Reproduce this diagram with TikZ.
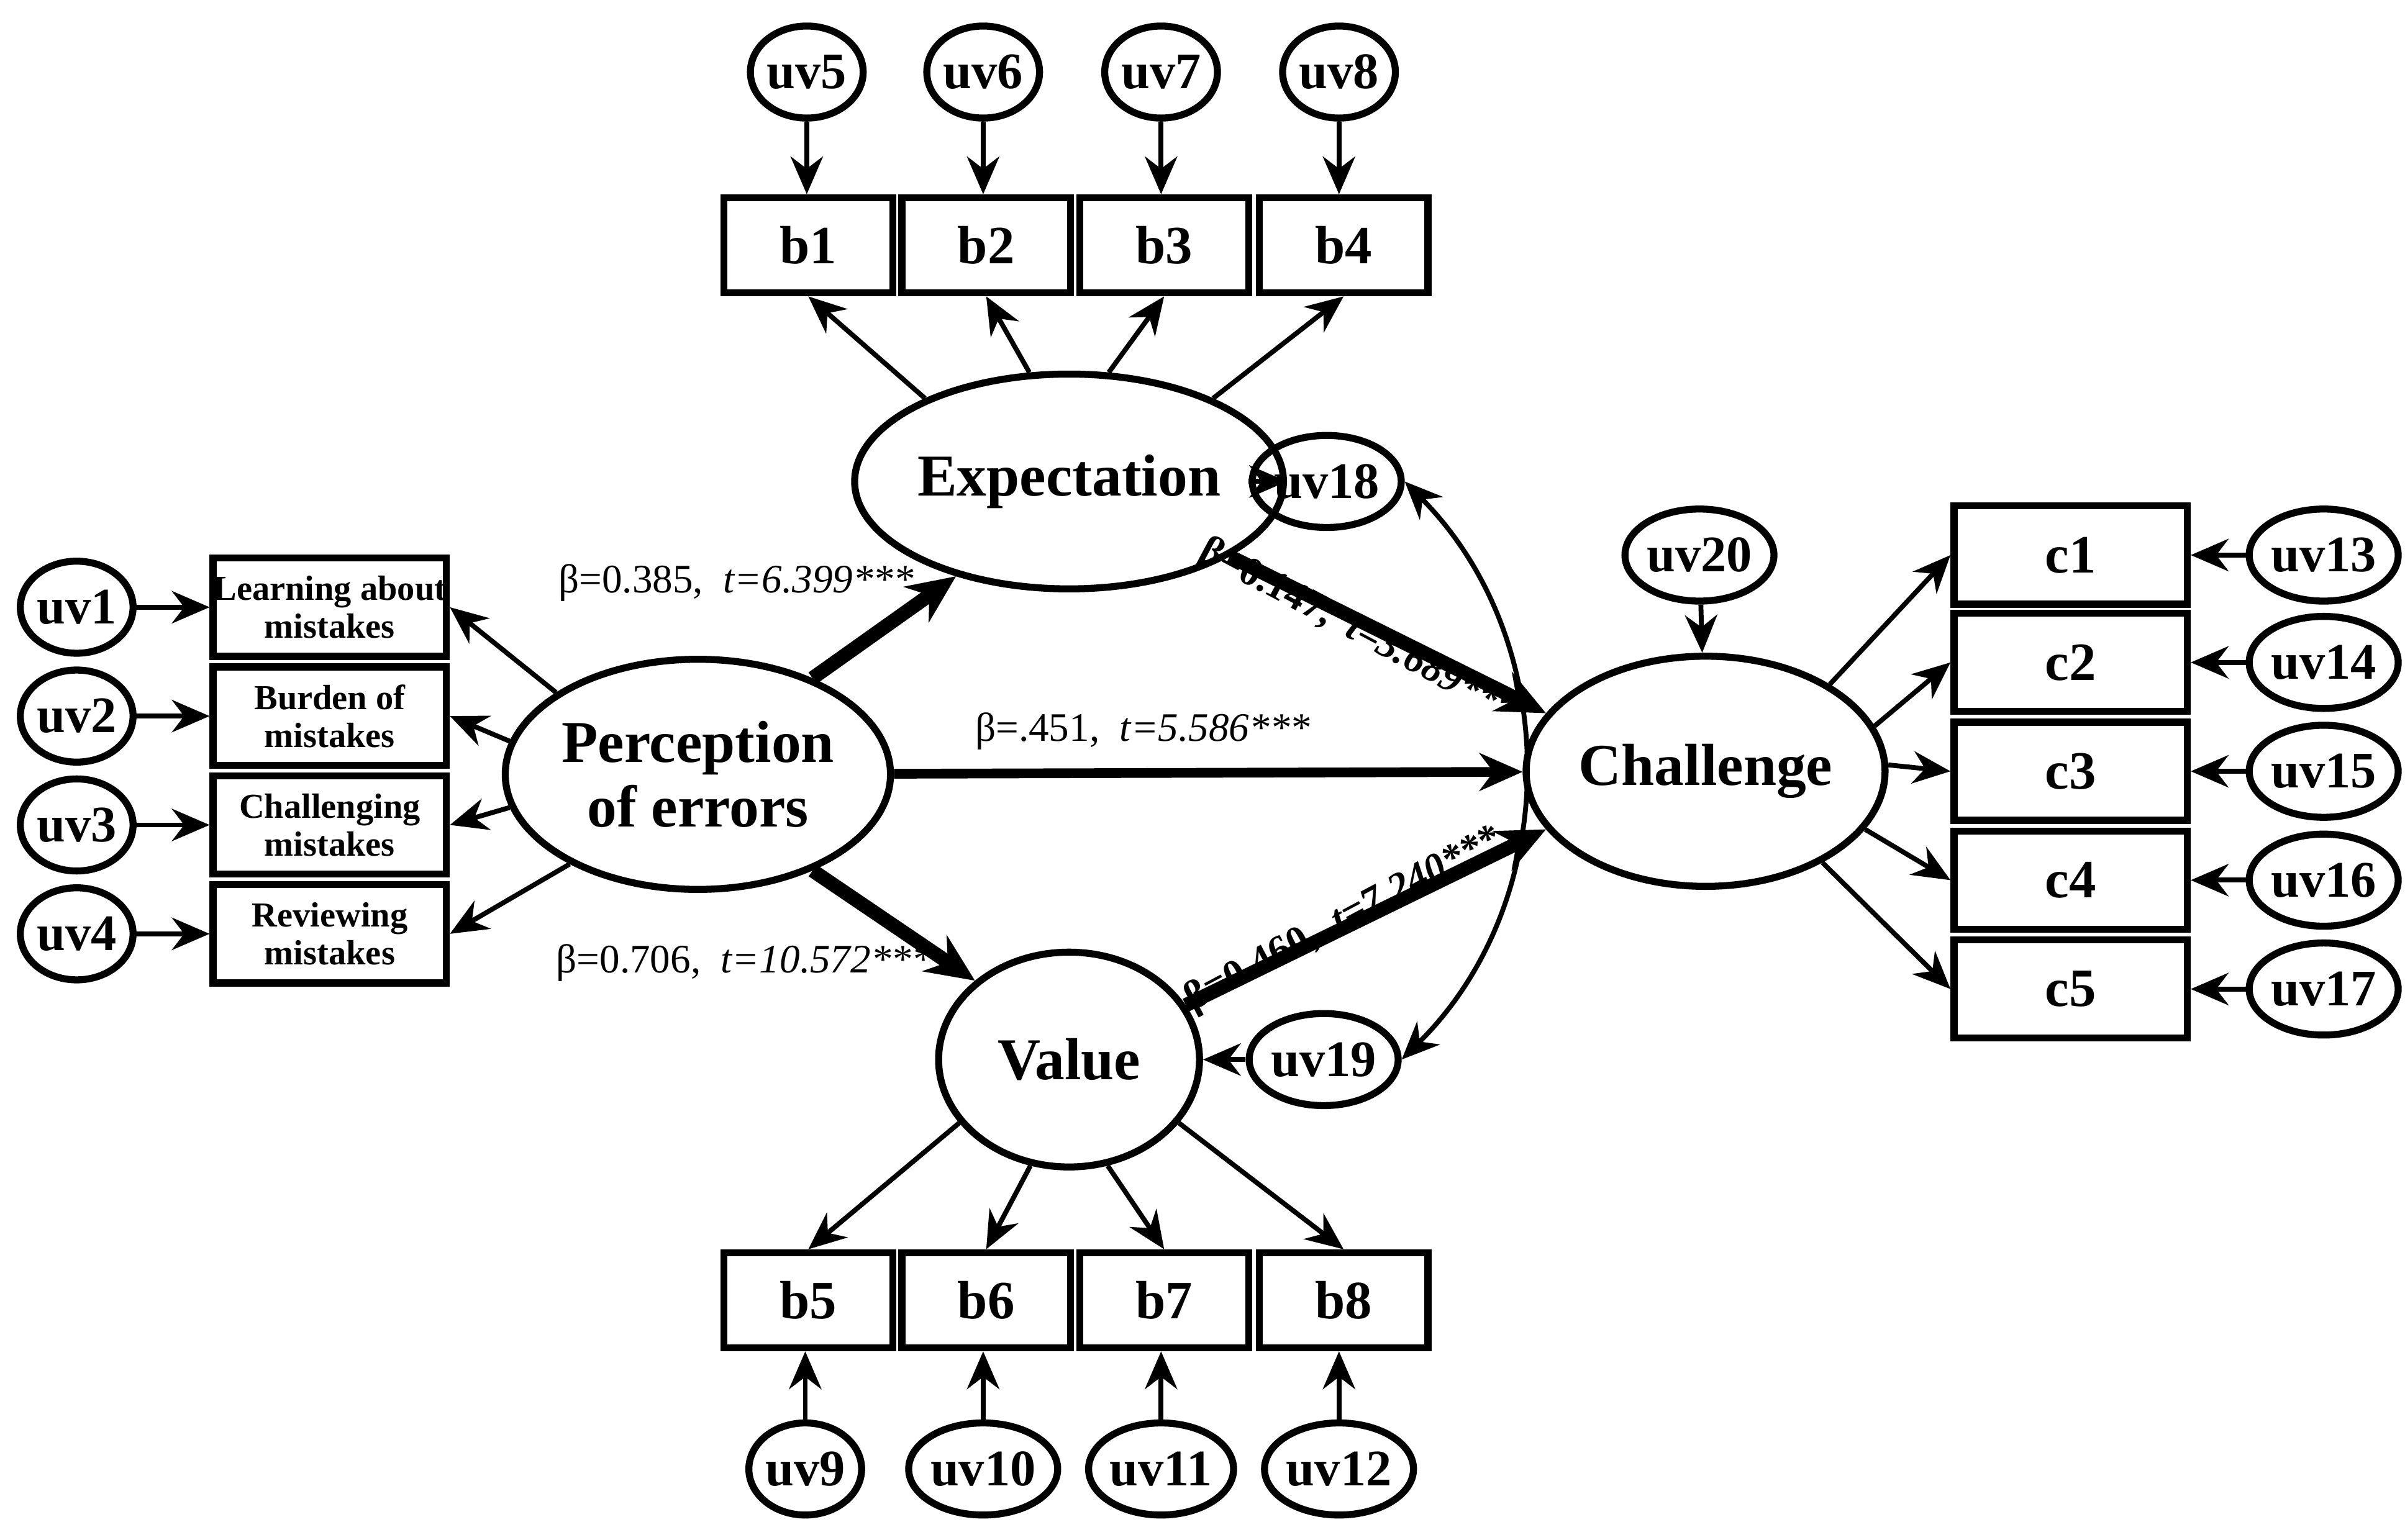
\documentclass[tikz,border=0pt]{standalone}
\usepackage{fontspec}
\setmainfont{Liberation Serif}
\usetikzlibrary{shapes.geometric,arrows.meta}
\begin{document}
\begin{tikzpicture}[x=0.01cm,y=-0.01cm,
 lat/.style={ellipse,draw,line width=1.3pt,font=\bfseries\fontsize{11}{12}\selectfont,align=center,inner sep=0pt},
 big/.style={lat,minimum width=170\pgflinewidth*0+1.7cm,minimum height=1.4cm},
 per/.style={lat,minimum width=1.8cm,minimum height=1.5cm},
 uv/.style={lat,minimum width=0.72cm,minimum height=0.6cm,font=\bfseries\fontsize{9.5}{10}\selectfont},
 box/.style={draw,line width=1.3pt,minimum width=1.1cm,minimum height=0.62cm,font=\bfseries\fontsize{10}{11}\selectfont,inner sep=0pt},
 wbox/.style={box,minimum width=1.52cm,minimum height=0.64cm},
 sbox/.style={wbox,font=\bfseries\fontsize{6.5}{7}\selectfont,align=center},
 ar/.style={-{Stealth[length=7pt,width=6pt]},line width=0.9pt},
 tar/.style={-{Stealth[length=9pt,width=8pt]},line width=2.6pt},
 mar/.style={-{Stealth[length=8pt,width=7pt]},line width=1.8pt},
 lab/.style={font=\fontsize{7.5}{8}\selectfont},
 blab/.style={font=\bfseries\fontsize{7.5}{8}\selectfont}]
\useasboundingbox (0,0) rectangle (1568,1004);
% latent
\node[big] (E) at (697,314) {Expectation};
\node[big] (V) at (697,691) {Value};
\node[per] (P) at (455,505) {Perception\\of errors};
\node[per] (C) at (1112,503) {Challenge};
\node[uv] (u18) at (865,314) {uv18};
\node[uv] (u19) at (863,691) {uv19};
\node[uv] (u20) at (1108,362) {uv20};
% top
\foreach \i/\x in {1/527,2/643,3/759,4/876}{\node[box] (b\i) at (\x,160) {b\i};}
\foreach \i/\x/\b in {5/526/1,6/641/2,7/757/3,8/873/4}{\node[uv] (u\i) at (\x,47) {uv\i}; \draw[ar] (u\i) -- (u\i|-b\b.north);}
\foreach \i/\x in {5/527,6/643,7/759,8/876}{\node[box] (b\i) at (\x,848) {b\i};}
\foreach \i/\x/\b in {9/525/5,10/641/6,11/757/7,12/873/8}{\node[uv] (u\i) at (\x,958) {uv\i}; \draw[ar] (u\i) -- (u\i|-b\b.south);}
\draw[ar] (E.150) -- (b1.south); \draw[ar] (E.110) -- (b2.south);
\draw[ar] (E.70) -- (b3.south); \draw[ar] (E.30) -- (b4.south);
\draw[ar] (V.210) -- (b5.north); \draw[ar] (V.250) -- (b6.north);
\draw[ar] (V.290) -- (b7.north); \draw[ar] (V.330) -- (b8.north);
% left
\node[sbox] (l1) at (215,396) {Learning about\\mistakes};
\node[sbox] (l2) at (215,467) {Burden of\\mistakes};
\node[sbox] (l3) at (215,538) {Challenging\\mistakes};
\node[sbox] (l4) at (215,609) {Reviewing\\mistakes};
\foreach \i/\y in {1/396,2/467,3/538,4/609}{\node[uv] (u\i) at (50,\y) {uv\i}; \draw[ar] (u\i) -- (l\i);}
\draw[ar] (P.150) -- (l1.east); \draw[ar] (P.170) -- (l2.east);
\draw[ar] (P.190) -- (l3.east); \draw[ar] (P.215) -- (l4.east);
% right
\foreach \i/\y/\u in {1/362/13,2/432/14,3/503/15,4/574/16,5/645/17}{\node[wbox] (c\i) at (1350,\y) {c\i}; \node[uv] (u\u) at (1515,\y) {uv\u}; \draw[ar] (u\u) -- (c\i);}
\draw[ar] (C.35) -- (c1.west); \draw[ar] (C.15) -- (c2.west);
\draw[ar] (C.2) -- (c3.west); \draw[ar] (C.-20) -- (c4.west); \draw[ar] (C.-38) -- (c5.west);
% structural
\draw[tar] (P.40) -- (E.220);
\draw[tar] (P.-40) -- (V.140);
\draw[mar] (P) -- (C);
\draw[tar] (E.-25) -- (C.160);
\draw[tar] (V.25) -- (C.200);
\draw[ar] (u18) -- (E); \draw[ar] (u19) -- (V); \draw[ar] (u20) -- (C);
\draw[{Stealth[length=7pt,width=6pt]}-{Stealth[length=7pt,width=6pt]},line width=0.9pt] (u18.east) to[bend left=45] (u19.east);
% labels
\node[lab] at (480,380) {β=0.385,\ \ \textit{t=6.399***}};
\node[lab] at (745,477) {β=.451,\ \ \textit{t=5.586***}};
\node[lab] at (485,628) {β=0.706,\ \ \textit{t=10.572***}};
\node[blab,rotate=-28] at (885,412) {β=0.147,\ \ \textit{t=3.689***}};
\node[blab,rotate=28] at (876,600) {β=0.460,\ \ \textit{t=7.240***}};
\end{tikzpicture}
\end{document}
